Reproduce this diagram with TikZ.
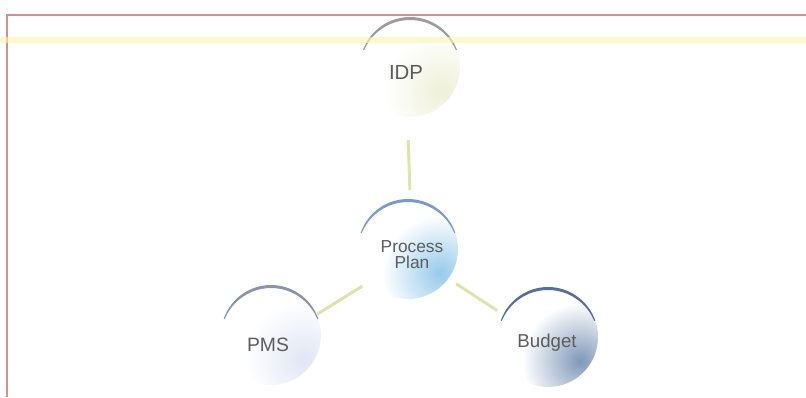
\documentclass[tikz,border=0pt]{standalone}
\usepackage{fontspec}
\setmainfont{Liberation Sans}
\usetikzlibrary{calc,backgrounds}

\definecolor{frame}{HTML}{D98C92}
\definecolor{band}{HTML}{FAF5B0}
\definecolor{linkc}{HTML}{DFE2AC}
\definecolor{txt}{HTML}{5C5C5C}
\definecolor{idparc}{HTML}{9C9C9C}
\definecolor{idpfill}{HTML}{EEF0D8}
\definecolor{planarc}{HTML}{7B9BC6}
\definecolor{planfill}{HTML}{95CAEC}
\definecolor{pmsarc}{HTML}{8A93AE}
\definecolor{pmsfill}{HTML}{E0E6F4}
\definecolor{budarc}{HTML}{5B6F94}
\definecolor{budfill}{HTML}{8098BA}

\begin{document}
\begin{tikzpicture}[x=0.75pt,y=0.75pt,
  bubble/.style={circle, minimum size=75pt, inner sep=0pt, text=txt, align=center},
  connector/.style={linkc, line width=2.2pt}]
\useasboundingbox (0,0) rectangle (806,397);

% page frame and the yellow band
\draw[frame, line width=1.3pt] (7,0) |- (806,382);
\fill[band, opacity=0.6] (0,354) rectangle (806,360);

% the four bubbles
\node[bubble, font=\fontsize{15.3}{17}\selectfont] (idp) at (406,325) {IDP};
\node[bubble, font=\fontsize{13}{12}\selectfont] (plan) at (412,142) {Process\\Plan};
\node[bubble, font=\fontsize{14.5}{16}\selectfont] (pms) at (268,52) {PMS};
\node[bubble, font=\fontsize{14}{16}\selectfont] (budget) at (547,54) {Budget};

% shading and top arc of every bubble
\begin{scope}[on background layer]
\foreach \n/\dx/\dy/\arcc/\fillc in {idp/4/5/idparc/idpfill, plan/-4/6/planarc/planfill,
    pms/3/10/pmsarc/pmsfill, budget/1/6/budarc/budfill}
{
  \coordinate (\n-c) at ($(\n.center)+(\dx,\dy)$);
  \begin{scope}
    \clip (\n-c) circle (50);
    \shade[inner color=\fillc, outer color=white] ($(\n-c)+(32,-24)$) circle (58);
  \end{scope}
  \begin{scope}
    \clip ($(\n-c)+(-55,17)$) rectangle ($(\n-c)+(55,55)$);
    \fill[\arcc, even odd rule] (\n-c) circle (50) ($(\n-c)+(0,-3)$) circle (50);
  \end{scope}
}
\end{scope}

% connectors
\draw[connector, shorten <=13.5pt, shorten >=11pt] (idp) -- (plan);
\draw[connector, shorten <=6.4pt, shorten >=6pt] (plan) -- (pms);
\draw[connector, shorten <=1.8pt, shorten >=6.8pt] (plan) -- (budget);
\end{tikzpicture}
\end{document}
